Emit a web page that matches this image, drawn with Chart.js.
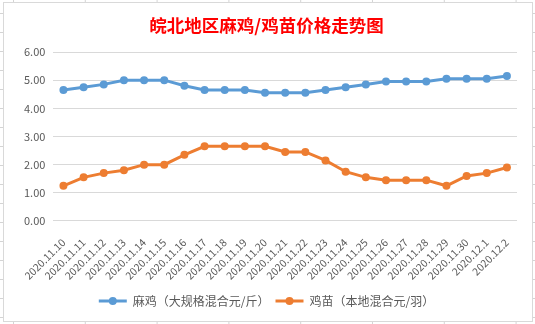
<!DOCTYPE html>
<html>
<head>
<meta charset="utf-8">
<script src="https://cdn.jsdelivr.net/npm/chart.js@4"></script>
<style>
  html, body { margin: 0; padding: 0; }
  body {
    width: 535px; height: 324px; overflow: hidden; position: relative;
    background-color: #fff;
    background-image:
      linear-gradient(to right, #d4d4d4 1px, transparent 1px),
      linear-gradient(to bottom, #d4d4d4 1px, transparent 1px);
    background-size: 71.8px 19px;
    background-position: 13px 13px;
  }
  #box {
    position: absolute; left: 3px; top: 2px; width: 528px; height: 318px;
    border: 1px solid #d9d9d9; background: #fff;
  }
</style>
</head>
<body>
<div id="box"><canvas id="chart"></canvas></div>
<script>
// dates on the x axis
const dates = [
  "2020.11.10","2020.11.11","2020.11.12","2020.11.13","2020.11.14","2020.11.15",
  "2020.11.16","2020.11.17","2020.11.18","2020.11.19","2020.11.20","2020.11.21",
  "2020.11.22","2020.11.23","2020.11.24","2020.11.25","2020.11.26","2020.11.27",
  "2020.11.28","2020.11.29","2020.11.30","2020.12.1","2020.12.2"
];
// 麻鸡 price (元/斤)
const maji = [4.65,4.75,4.85,5.0,5.0,5.0,4.8,4.65,4.65,4.65,4.55,4.55,4.55,4.65,4.75,4.85,4.95,4.95,4.95,5.05,5.05,5.05,5.15];
// 鸡苗 price (元/羽)
const jimiao = [1.25,1.55,1.7,1.8,2.0,2.0,2.35,2.65,2.65,2.65,2.65,2.45,2.45,2.15,1.75,1.55,1.45,1.45,1.45,1.25,1.6,1.7,1.9];
const seriesNames = ["麻鸡（大规格混合元/斤）", "鸡苗（本地混合元/羽）"];
const yTicks = [0, 1, 2, 3, 4, 5, 6];

const fontFamily = '"Noto Sans CJK SC", "DejaVu Sans", sans-serif';
const textGray = "#595959";

// draw the excel style legend marker: a line with a dot in the middle
const legendMarker = {
  id: "legendMarker",
  afterDraw(chart) {
    const legend = chart.legend;
    if (!legend || !legend.legendHitBoxes) return;
    const ctx = chart.ctx;
    const bw = legend.options.labels.boxWidth;
    legend.legendHitBoxes.forEach((hb, i) => {
      const ds = chart.data.datasets[i];
      const cy = hb.top + hb.height / 2;
      ctx.save();
      ctx.strokeStyle = ds.borderColor;
      ctx.lineWidth = 3;
      ctx.beginPath();
      ctx.moveTo(hb.left, cy);
      ctx.lineTo(hb.left + bw, cy);
      ctx.stroke();
      ctx.fillStyle = ds.borderColor;
      ctx.beginPath();
      ctx.arc(hb.left + bw / 2, cy, 4, 0, Math.PI * 2);
      ctx.fill();
      ctx.restore();
    });
  }
};

const ctx = document.getElementById("chart");
new Chart(ctx, {
  type: "line",
  data: {
    labels: dates,
    datasets: [
      {
        label: seriesNames[0],
        data: maji,
        borderColor: "#5B9BD5",
        backgroundColor: "#5B9BD5",
        borderWidth: 3,
        pointRadius: 4,
        pointBorderWidth: 0,
        tension: 0
      },
      {
        label: seriesNames[1],
        data: jimiao,
        borderColor: "#ED7D31",
        backgroundColor: "#ED7D31",
        borderWidth: 3,
        pointRadius: 4,
        pointBorderWidth: 0,
        tension: 0
      }
    ]
  },
  options: {
    responsive: true,
    maintainAspectRatio: false,
    animation: false,
    layout: {
      padding: { left: 12, right: 15, top: 0, bottom: 4 }
    },
    scales: {
      x: {
        offset: true,
        grid: { display: false },
        border: { display: false },
        ticks: {
          color: textGray,
          autoSkip: false,
          maxRotation: 45,
          minRotation: 45,
          padding: 7,
          font: { family: fontFamily, size: 10.5 }
        }
      },
      y: {
        min: 0,
        max: 6,
        afterBuildTicks: (axis) => { axis.ticks = yTicks.map(v => ({ value: v })); },
        grid: { color: "#d9d9d9", drawTicks: false },
        border: { display: false },
        ticks: {
          color: textGray,
          padding: 8,
          font: { family: fontFamily, size: 11 },
          callback: (v) => Number(v).toFixed(2)
        }
      }
    },
    plugins: {
      title: {
        display: true,
        text: "皖北地区麻鸡/鸡苗价格走势图",
        color: "#FF0000",
        font: { family: fontFamily, size: 17.5, weight: "bold" },
        padding: { top: 12, bottom: 16 }
      },
      legend: {
        position: "bottom",
        labels: {
          color: textGray,
          boxWidth: 28,
          boxHeight: 8,
          padding: 6,
          font: { family: fontFamily, size: 12 },
          generateLabels: (chart) => {
            const items = Chart.defaults.plugins.legend.labels.generateLabels(chart);
            items.forEach(it => {
              it.fillStyle = "rgba(0,0,0,0)";
              it.strokeStyle = "rgba(0,0,0,0)";
              it.lineWidth = 0;
            });
            return items;
          }
        }
      },
      tooltip: { enabled: false }
    }
  },
  plugins: [legendMarker]
});
</script>
</body>
</html>
